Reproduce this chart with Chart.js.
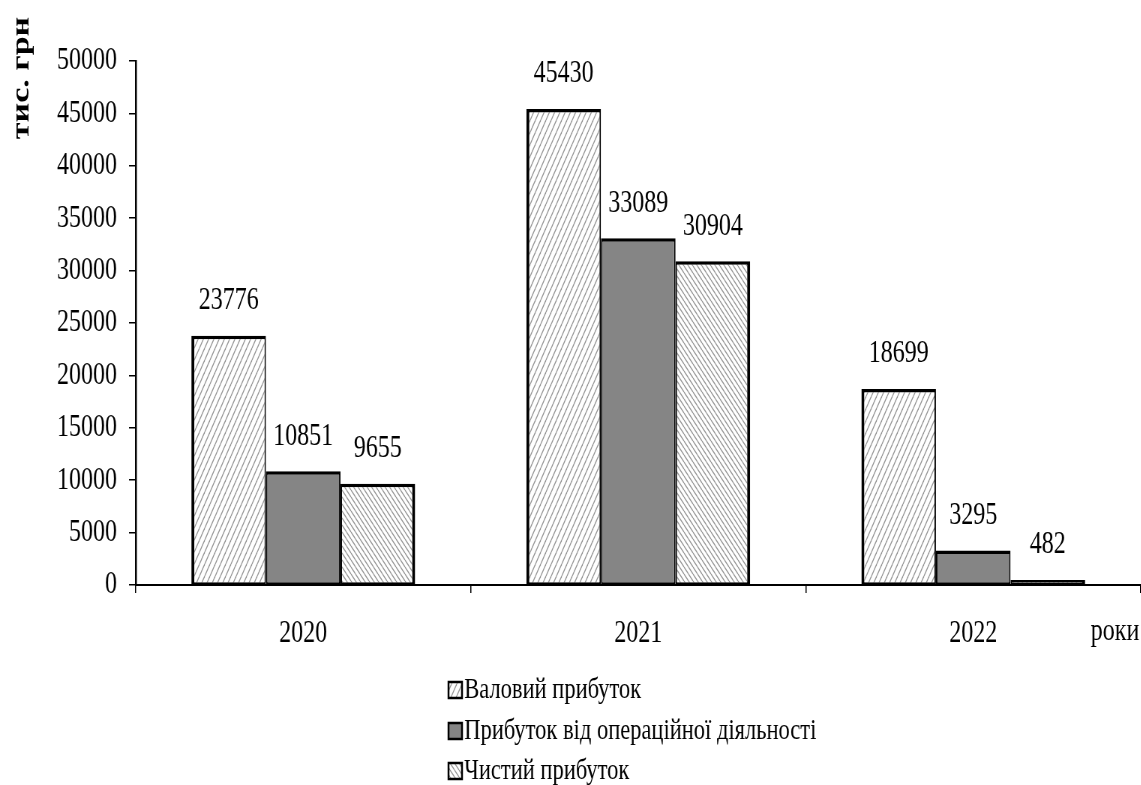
<!DOCTYPE html>
<html lang="uk">
<head>
<meta charset="utf-8">
<title>Прибуток, тис. грн</title>
<script src="https://cdn.jsdelivr.net/npm/chart.js@4.4.1/dist/chart.umd.min.js"></script>
<style>
  html, body { margin: 0; padding: 0; background: #fff; overflow: hidden; width: 1141px; height: 785px; }
  /* The drawing is laid out on a wider canvas and narrowed horizontally,
     which gives the condensed serif lettering of the chart. */
  #wrap { position: absolute; left: 0; top: 0; width: 1521px; height: 785px;
          transform: scaleX(0.75); transform-origin: 0 0; }
  #c { display: block; }
</style>
</head>
<body>
<div id="wrap"><canvas id="c" width="1521" height="785"></canvas></div>
<script>
const categories = ['2020', '2021', '2022'];
const grossProfit = [23776, 45430, 18699];
const operatingProfit = [10851, 33089, 3295];
const netProfit = [9655, 30904, 482];
const seriesNames = ['Валовий прибуток', 'Прибуток від операційної діяльності', 'Чистий прибуток'];
const yTicks = [0, 5000, 10000, 15000, 20000, 25000, 30000, 35000, 40000, 45000, 50000];
const yTitle = 'тис. грн';
const xTitle = 'роки';

const FONT = 'Liberation Serif, "Times New Roman", serif';

// Hatch fills: thin grey diagonal lines on white
function hatch(w, h, forward) {
  const c = document.createElement('canvas');
  c.width = w; c.height = h;
  const g = c.getContext('2d');
  g.fillStyle = '#fff';
  g.fillRect(0, 0, w, h);
  g.strokeStyle = '#959595';
  g.lineWidth = 1.3;
  for (const dx of [-w, 0, w]) {
    g.beginPath();
    if (forward) { g.moveTo(dx, h); g.lineTo(dx + w, 0); }
    else { g.moveTo(dx, 0); g.lineTo(dx + w, h); }
    g.stroke();
  }
  return g.createPattern(c, 'repeat');
}

const fills = [hatch(7, 12, true), '#858585', hatch(6, 7, false)];
const borders = [
  { top: 3.5, left: 4, right: 2, bottom: 2 },
  { top: 3.5, left: 2, right: 2, bottom: 2 },
  { top: 3.5, left: 2, right: 4, bottom: 2 }
];
const seriesValues = [grossProfit, operatingProfit, netProfit];

const valueLabels = {
  id: 'valueLabels',
  afterDatasetsDraw(chart) {
    const ctx = chart.ctx;
    ctx.save();
    ctx.font = '32px ' + FONT;
    ctx.fillStyle = '#000';
    ctx.textAlign = 'center';
    ctx.textBaseline = 'middle';
    chart.data.datasets.forEach((ds, i) => {
      chart.getDatasetMeta(i).data.forEach((bar, j) => {
        ctx.fillText(String(ds.data[j]), bar.x, bar.y - 35);
      });
    });
    ctx.restore();
  }
};

const extras = {
  id: 'extras',
  afterDraw(chart) {
    const ctx = chart.ctx;
    ctx.save();
    // axis captions
    ctx.fillStyle = '#000';
    ctx.font = 'bold 34px ' + FONT;
    ctx.translate(29, 78);
    ctx.rotate(-Math.PI / 2);
    ctx.textAlign = 'center';
    ctx.textBaseline = 'middle';
    ctx.fillText(yTitle, 0, 0);
    ctx.restore();

    ctx.save();
    ctx.font = '32px ' + FONT;
    ctx.fillStyle = '#000';
    ctx.textAlign = 'right';
    ctx.textBaseline = 'middle';
    ctx.fillText(xTitle, 1519, 632);

    // legend, one entry per row
    ctx.font = '30px ' + FONT;
    const rows = [690, 731, 771];
    chart.data.datasets.forEach((ds, i) => {
      const y = rows[i];
      ctx.fillStyle = ds.backgroundColor;
      ctx.fillRect(598, y - 8, 18, 16);
      ctx.strokeStyle = '#000';
      ctx.lineWidth = 2.5;
      ctx.strokeRect(598, y - 8, 18, 16);
      ctx.fillStyle = '#000';
      ctx.textAlign = 'left';
      ctx.fillText(ds.label, 619, y);
    });
    ctx.restore();
  }
};

new Chart(document.getElementById('c'), {
  type: 'bar',
  data: {
    labels: categories,
    datasets: seriesNames.map((name, i) => ({
      label: name,
      data: seriesValues[i],
      backgroundColor: fills[i],
      borderColor: '#000',
      borderWidth: borders[i],
      borderSkipped: false,
      categoryPercentage: 0.668,
      barPercentage: 1
    }))
  },
  options: {
    responsive: false,
    animation: false,
    devicePixelRatio: 1,
    layout: { padding: { top: 61, right: 0, left: 0, bottom: 0 } },
    plugins: {
      legend: { display: false },
      tooltip: { enabled: false }
    },
    scales: {
      x: {
        grid: { display: true, drawOnChartArea: false, drawTicks: true, tickLength: 8,
                color: '#000', lineWidth: 1.5, offset: true },
        border: { display: true, color: '#000', width: 2 },
        ticks: { color: '#000', font: { family: FONT, size: 32 }, padding: 21 },
        afterFit(scale) { scale.height = 200; }
      },
      y: {
        min: 0,
        max: 50000,
        afterBuildTicks(scale) { scale.ticks = yTicks.map(v => ({ value: v })); },
        grid: { display: true, drawOnChartArea: false, drawTicks: true, tickLength: 9,
                color: '#000', lineWidth: 1.5 },
        border: { display: true, color: '#000', width: 2.5 },
        ticks: { color: '#000', font: { family: FONT, size: 32 }, padding: 16,
                 callback: v => String(v) },
        afterFit(scale) { scale.width = 181; }
      }
    }
  },
  plugins: [valueLabels, extras]
});
</script>
</body>
</html>
